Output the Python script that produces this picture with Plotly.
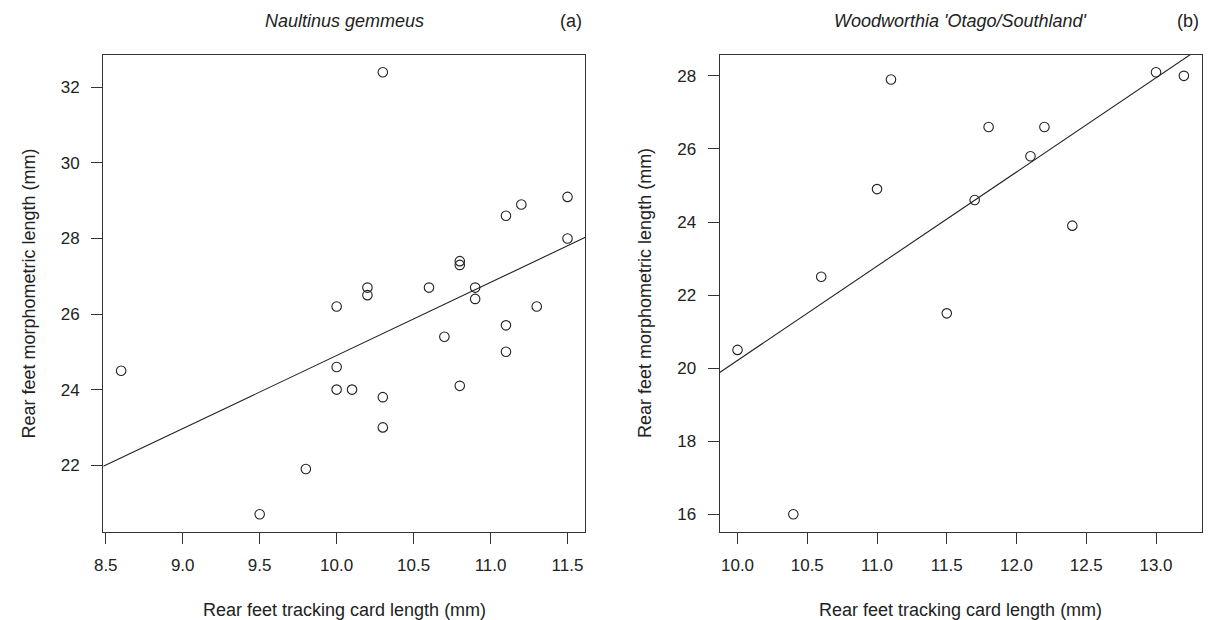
import numpy as np
import plotly.graph_objects as go

# Panel (a): Naultinus gemmeus
a_track = [10.3, 11.5, 11.5, 11.2, 11.1, 10.8, 10.8, 10.9, 10.9, 10.6, 10.2, 10.2, 10.0,
           11.3, 11.1, 10.7, 11.1, 10.0, 8.6, 10.0, 10.1, 10.8, 10.3, 10.3, 9.8, 9.5]
a_morph = [32.4, 29.1, 28.0, 28.9, 28.6, 27.4, 27.3, 26.7, 26.4, 26.7, 26.7, 26.5, 26.2,
           26.2, 25.7, 25.4, 25.0, 24.6, 24.5, 24.0, 24.0, 24.1, 23.8, 23.0, 21.9, 20.7]

# Panel (b): Woodworthia 'Otago/Southland'
b_track = [13.0, 13.2, 11.1, 11.8, 12.2, 12.1, 11.7, 11.0, 12.4, 10.6, 11.5, 10.0, 10.4]
b_morph = [28.1, 28.0, 27.9, 26.6, 26.6, 25.8, 24.6, 24.9, 23.9, 22.5, 21.5, 20.5, 16.0]

a_xticks = [8.5, 9.0, 9.5, 10.0, 10.5, 11.0, 11.5]
a_yticks = [22, 24, 26, 28, 30, 32]
b_xticks = [10.0, 10.5, 11.0, 11.5, 12.0, 12.5, 13.0]
b_yticks = [16, 18, 20, 22, 24, 26, 28]

titles = ["Naultinus gemmeus", "Woodworthia 'Otago/Southland'"]
panel_tags = ["(a)", "(b)"]
xlabel = "Rear feet tracking card length (mm)"
ylabel = "Rear feet morphometric length (mm)"

FONT = "Liberation Sans, Arial, sans-serif"
INK = "#222222"
W, H = 1209, 620


def rrange(v):
    lo, hi = min(v), max(v)
    d = (hi - lo) * 0.04
    return [lo - d, hi + d]


fig = go.Figure()

panels = [
    (a_track, a_morph, a_xticks, a_yticks, [95 / W, 580.7 / W], "x", "y"),
    (b_track, b_morph, b_xticks, b_yticks, [716 / W, 1201.7 / W], "x2", "y2"),
]
ydom = [1 - 532 / H, 1 - 54.5 / H]

for i, (xs, ys, xt, yt, xdom, xa, ya) in enumerate(panels):
    xr = rrange(xs)
    yr = rrange(ys)
    slope, intercept = np.polyfit(xs, ys, 1)
    lx = np.array(xr)
    fig.add_trace(go.Scatter(x=lx, y=slope * lx + intercept, mode="lines",
                             line=dict(color=INK, width=1.1),
                             xaxis=xa, yaxis=ya, showlegend=False, hoverinfo="skip"))
    fig.add_trace(go.Scatter(x=xs, y=ys, mode="markers",
                             marker=dict(symbol="circle-open", size=9.5, color=INK,
                                         line=dict(width=1.1, color=INK)),
                             xaxis=xa, yaxis=ya, showlegend=False))
    axsuffix = "" if i == 0 else "2"
    common = dict(showline=True, linecolor="#333333", linewidth=1.3, mirror=True,
                  ticks="outside", ticklen=11, tickwidth=1, tickcolor="#333333",
                  showgrid=False, zeroline=False,
                  tickfont=dict(family=FONT, size=17, color=INK))
    fig.layout["xaxis" + axsuffix] = dict(
        domain=xdom, range=xr, tickvals=xt, ticktext=[f"{v:.1f}" for v in xt],
        anchor="y" + axsuffix, ticklabelstandoff=6, **common)
    fig.layout["yaxis" + axsuffix] = dict(
        domain=ydom, range=yr, tickvals=yt, ticktext=[str(v) for v in yt],
        anchor="x" + axsuffix, ticklabelstandoff=8, **common)

    cx = (xdom[0] + xdom[1]) / 2
    fig.add_annotation(text=titles[i], x=cx, y=1 - 21 / H, xref="paper", yref="paper",
                       showarrow=False, font=dict(family=FONT, size=18, color=INK, style="italic"),
                       xanchor="center", yanchor="middle")
    fig.add_annotation(text=panel_tags[i], x=xdom[1] - 1 / W, y=1 - 21 / H, xref="paper", yref="paper",
                       showarrow=False, font=dict(family=FONT, size=18, color=INK),
                       xanchor="right", yanchor="middle")
    fig.add_annotation(text=xlabel, x=cx, y=1 - 610 / H, xref="paper", yref="paper",
                       showarrow=False, font=dict(family=FONT, size=18, color=INK),
                       xanchor="center", yanchor="middle")
    ylx = (xdom[0] * W - 74.5) / W
    fig.add_annotation(text=ylabel, x=ylx, y=(ydom[0] + ydom[1]) / 2, xref="paper", yref="paper",
                       showarrow=False, textangle=-90, font=dict(family=FONT, size=18, color=INK),
                       xanchor="center", yanchor="middle")

fig.update_layout(width=W, height=H, margin=dict(l=0, r=0, t=0, b=0),
                  plot_bgcolor="white", paper_bgcolor="white", hovermode=False)

fig.write_html("out.html", config={"displayModeBar": False},
               post_script="document.body.style.margin='0px';document.body.style.overflow='hidden';")
